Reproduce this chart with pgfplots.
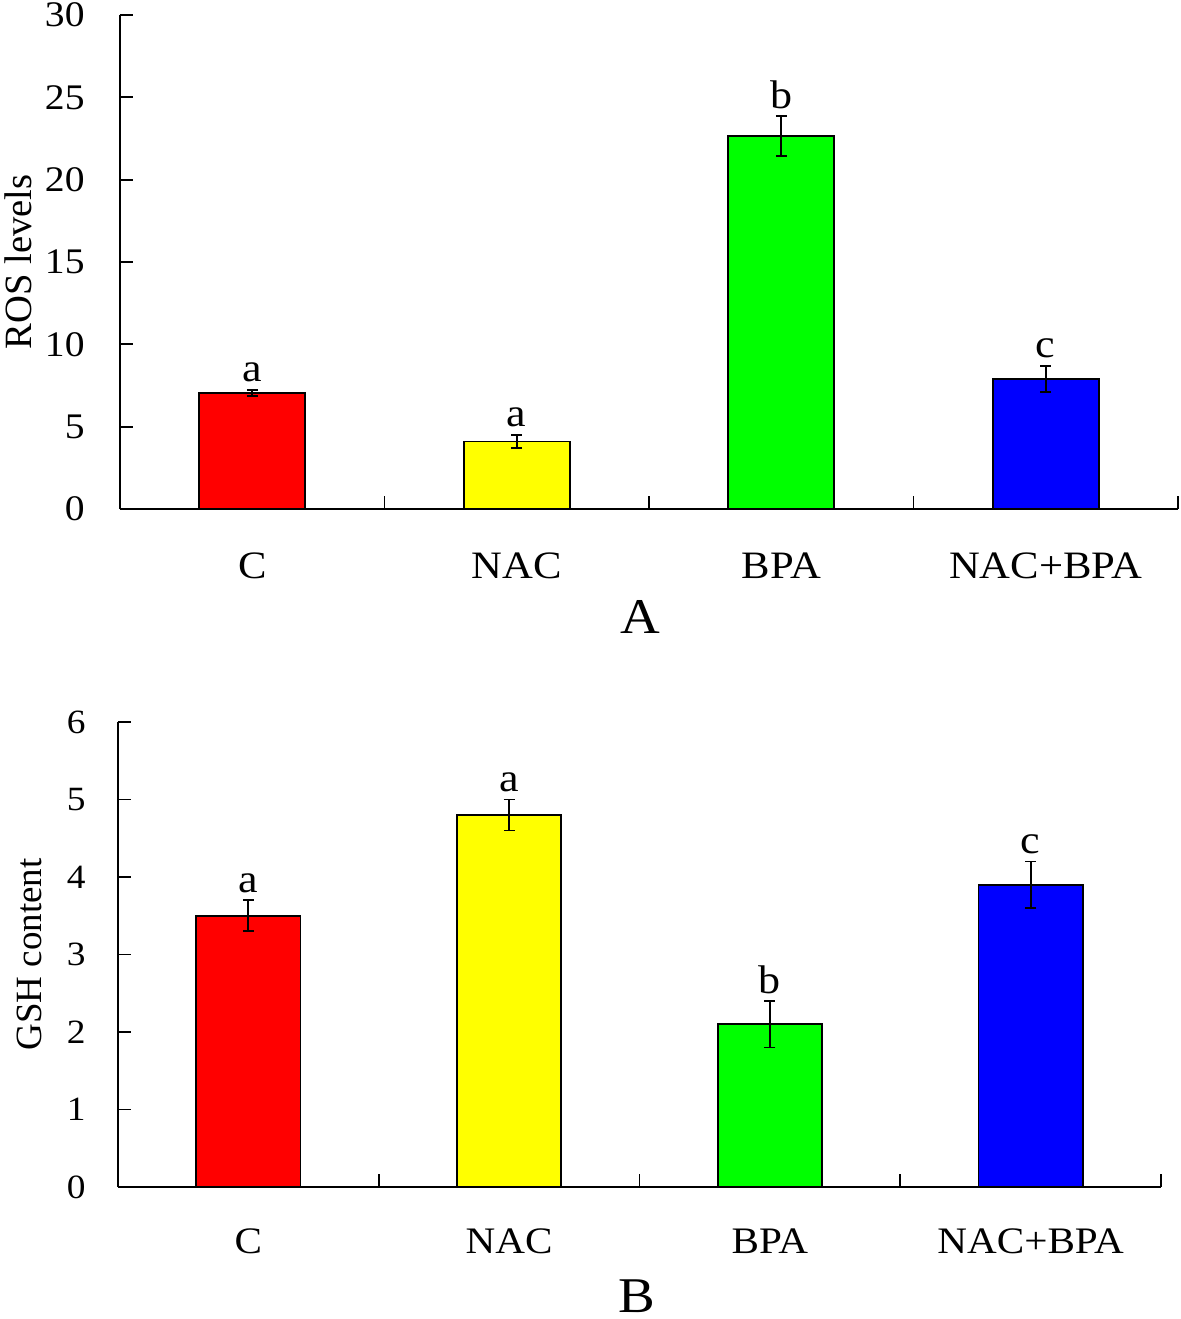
\documentclass[border=0pt]{standalone}
\usepackage{fontspec}
\setmainfont[FakeStretch=1.1]{Liberation Serif}
\newfontfamily\ylfont{Liberation Serif}
\usepackage{pgfplots}
\pgfplotsset{compat=1.18}
\definecolor{cred}{RGB}{255,0,0}
\definecolor{cyellow}{RGB}{255,255,0}
\definecolor{cgreen}{RGB}{0,255,0}
\definecolor{cblue}{RGB}{0,0,255}
\pgfplotsset{
  panel/.style={
    scale only axis,
    axis x line*=bottom, axis y line*=left,
    axis line style={-, line width=0.9pt, black},
    xmin=-0.5, xmax=3.5,
    ymin=0,
    tick align=inside,
    major tick length=6.5pt,
    tick style={line width=0.9pt, black},
    xtick={0.5,1.5,2.5,3.5},
    xticklabels={},
    extra x ticks={0,1,2,3},
    extra x tick labels={C,NAC,BPA,NAC+BPA},
    extra x tick style={major tick length=0pt, tick style={draw=none}},
    /pgf/number format/assume math mode=true,
    yticklabel style={anchor=east, inner sep=0pt},
    xticklabel style={anchor=base, inner sep=0pt},
    clip=false,
  },
  barplot/.style={ybar, bar width=0.4, bar shift=0pt, draw=black, line width=0.9pt,
    error bars/y dir=both, error bars/y explicit,
    error bars/error bar style={line width=0.9pt, black},
    error bars/error mark options={rotate=90, mark size=2.7pt, line width=0.9pt, black}},
  letters/.style={sharp plot, draw=none, mark=none, nodes near coords,
    point meta=explicit symbolic,
    nodes near coords style={anchor=base, yshift=4pt, inner sep=0pt, font=\fontsize{20}{22}\selectfont, text=black}},
}
\begin{document}
\begin{tikzpicture}[x=1pt,y=1pt]
\useasboundingbox (0,0) rectangle (590.5,-659.5);
% Panel A
\begin{axis}[panel,
  at={(60pt,-254.5pt)}, anchor=south west,
  width=529pt, height=247pt,
  ymax=30, ytick={0,5,...,30},
  yticklabel style={xshift=-17.5pt, font=\fontsize{18}{20}\selectfont},
  xticklabel style={yshift=-34.5pt, font=\fontsize{19.4}{22}\selectfont},
  ylabel={\ylfont ROS levels},
  ylabel style={at={(axis description cs:-0.0964,0.5)}, anchor=center, inner sep=0pt, font=\fontsize{19.3}{22}\selectfont},
  xlabel={A},
  xlabel style={at={(axis description cs:0.4915,0)}, anchor=base, yshift=-62pt, inner sep=0pt, font=\fontsize{25}{28}\selectfont},
]
\addplot[barplot, fill=cred] coordinates {(0,7.05) +- (0,0.2)};
\addplot[barplot, fill=cyellow] coordinates {(1,4.1) +- (0,0.4)};
\addplot[barplot, fill=cgreen] coordinates {(2,22.65) +- (0,1.2)};
\addplot[barplot, fill=cblue] coordinates {(3,7.9) +- (0,0.8)};
\addplot[letters] coordinates {(0,7.25)[a] (1,4.5)[a] (2,23.85)[b] (3,8.7)[c]};
\end{axis}
% Panel B
\begin{axis}[panel,
  at={(59pt,-593.5pt)}, anchor=south west,
  width=521.5pt, height=232.5pt,
  ymax=6, ytick={0,1,...,6},
  yticklabel style={xshift=-16pt, font=\fontsize{17}{19}\selectfont},
  xticklabel style={yshift=-33pt, font=\fontsize{18.7}{21}\selectfont},
  ylabel={\ylfont GSH content},
  ylabel style={at={(axis description cs:-0.0853,0.5)}, anchor=center, inner sep=0pt, font=\fontsize{18.5}{21}\selectfont},
  xlabel={B},
  xlabel style={at={(axis description cs:0.4976,0)}, anchor=base, yshift=-62.5pt, inner sep=0pt, font=\fontsize{25}{28}\selectfont},
]
\addplot[barplot, fill=cred] coordinates {(0,3.5) +- (0,0.2)};
\addplot[barplot, fill=cyellow] coordinates {(1,4.8) +- (0,0.2)};
\addplot[barplot, fill=cgreen] coordinates {(2,2.1) +- (0,0.3)};
\addplot[barplot, fill=cblue] coordinates {(3,3.9) +- (0,0.3)};
\addplot[letters] coordinates {(0,3.7)[a] (1,5.0)[a] (2,2.4)[b] (3,4.2)[c]};
\end{axis}
\end{tikzpicture}
\end{document}
